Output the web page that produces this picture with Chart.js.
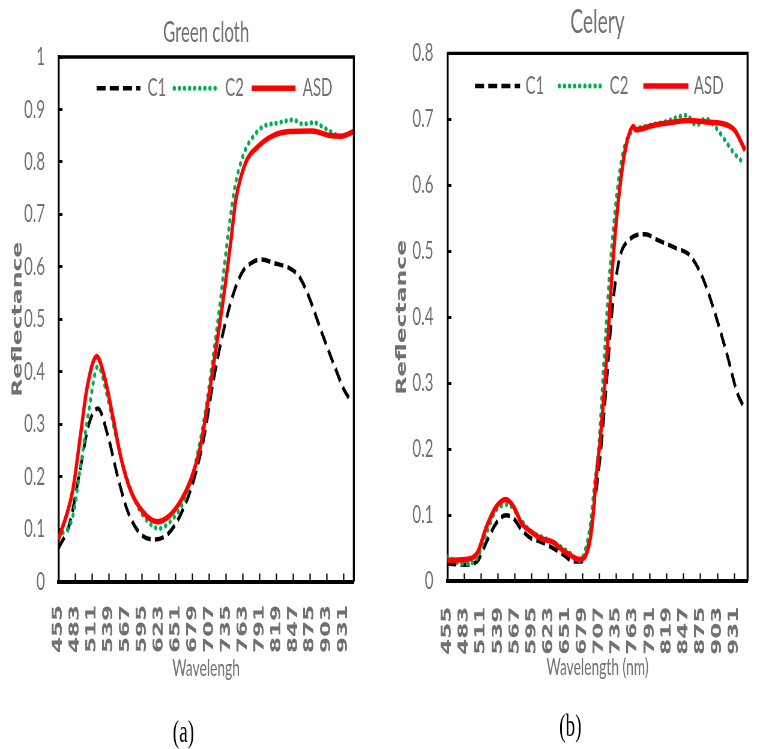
<!DOCTYPE html>
<html>
<head>
<meta charset="utf-8">
<script src="https://cdn.jsdelivr.net/npm/chart.js@4.4.1/dist/chart.umd.min.js"></script>
<style>
  html, body { margin: 0; padding: 0; background: #fff; overflow: hidden; }
  canvas { position: absolute; top: 0; }
</style>
</head>
<body>
<!-- the figure is horizontally condensed: drawn wide, shown at 0.6 of its width -->
<canvas id="cloth" width="633" height="749" style="left:0;width:379.8px;height:749px"></canvas>
<canvas id="celery" width="653" height="749" style="left:380px;width:391.8px;height:749px"></canvas>
<script>
// [wavelength nm, reflectance]
const clothC1 = [[455, 0.063], [474, 0.111], [490, 0.205], [506, 0.300], [521, 0.330], [538, 0.276], [554, 0.200],
  [570, 0.136], [591, 0.092], [617, 0.080], [639, 0.092], [660, 0.130], [681, 0.194], [698, 0.275], [714, 0.385],
  [730, 0.475], [746, 0.545], [762, 0.590], [778, 0.608], [794, 0.614], [815, 0.607], [841, 0.597], [857, 0.581],
  [873, 0.543], [895, 0.473], [916, 0.410], [932, 0.365], [944, 0.343]];
const clothC2 = [[455, 0.085], [479, 0.124], [492, 0.219], [506, 0.327], [521, 0.410], [538, 0.346], [551, 0.276],
  [567, 0.206], [585, 0.149], [607, 0.111], [623, 0.101], [644, 0.117], [665, 0.155], [681, 0.213], [698, 0.308],
  [711, 0.410], [724, 0.524], [735, 0.632], [748, 0.743], [756, 0.785], [767, 0.823], [780, 0.848], [796, 0.867],
  [820, 0.874], [847, 0.880], [863, 0.872], [881, 0.875], [900, 0.864], [927, 0.849], [948, 0.858]];
const clothASD = [[455, 0.079], [479, 0.174], [492, 0.280], [503, 0.370], [519, 0.429], [532, 0.390], [546, 0.314],
  [559, 0.238], [575, 0.175], [596, 0.133], [620, 0.114], [639, 0.124], [660, 0.155], [676, 0.194], [692, 0.257],
  [705, 0.346], [716, 0.429], [730, 0.537], [743, 0.651], [751, 0.727], [767, 0.797], [788, 0.829], [815, 0.851],
  [841, 0.858], [879, 0.859], [905, 0.851], [927, 0.849], [948, 0.858]];

const celeryC1 = [[455, 0.027], [483, 0.025], [504, 0.030], [520, 0.060], [536, 0.088], [552, 0.100], [565, 0.095],
  [578, 0.078], [594, 0.065], [610, 0.060], [631, 0.050], [648, 0.040], [664, 0.030], [677, 0.030], [688, 0.052],
  [695, 0.093], [708, 0.184], [719, 0.300], [729, 0.416], [740, 0.487], [756, 0.517], [783, 0.526], [804, 0.517],
  [836, 0.504], [857, 0.494], [878, 0.461], [899, 0.406], [920, 0.340], [936, 0.285], [947, 0.264]];
const celeryC2 = [[455, 0.037], [483, 0.026], [504, 0.035], [520, 0.073], [536, 0.108], [557, 0.116], [573, 0.098],
  [594, 0.075], [610, 0.068], [637, 0.056], [658, 0.043], [674, 0.031], [685, 0.052], [693, 0.093], [698, 0.138],
  [706, 0.204], [714, 0.325], [724, 0.466], [735, 0.578], [746, 0.648], [759, 0.679], [783, 0.689], [815, 0.696],
  [852, 0.706], [868, 0.691], [883, 0.701], [899, 0.689], [915, 0.669], [931, 0.648], [944, 0.636]];
const celeryASD = [[455, 0.032], [483, 0.033], [504, 0.042], [520, 0.083], [536, 0.113], [552, 0.124], [565, 0.113],
  [578, 0.088], [594, 0.075], [610, 0.065], [631, 0.059], [642, 0.050], [658, 0.040], [674, 0.033], [685, 0.040],
  [695, 0.083], [703, 0.169], [708, 0.209], [719, 0.335], [729, 0.477], [740, 0.588], [751, 0.658], [764, 0.689],
  [767, 0.684], [798, 0.691], [825, 0.695], [857, 0.698], [883, 0.696], [909, 0.694], [931, 0.684], [949, 0.653]];

const xTicks = [455, 483, 511, 539, 567, 595, 623, 651, 679, 707, 735, 763, 791, 819, 847, 875, 903, 931];
const clothYTicks = [0, 0.1, 0.2, 0.3, 0.4, 0.5, 0.6, 0.7, 0.8, 0.9, 1];
const celeryYTicks = [0, 0.1, 0.2, 0.3, 0.4, 0.5, 0.6, 0.7, 0.8];

const GREY = '#707070';

// legend sits inside the plot area, in one row
const insideLegend = {
  id: 'insideLegend',
  afterDatasetsDraw(chart, args, opts) {
    const { ctx, chartArea } = chart;
    const { lineLen, textGap, itemGap } = opts;
    ctx.save();
    ctx.font = '25px Lato';
    const items = chart.data.datasets.map(ds => ({ ds, w: ctx.measureText(ds.label).width }));
    const total = items.reduce((s, it) => s + lineLen + textGap + it.w, 0) + itemGap * (items.length - 1);
    let x = (chartArea.left + chartArea.right) / 2 - total / 2 + opts.shift;
    const y = chartArea.top + opts.top;
    items.forEach(({ ds, w }) => {
      ctx.strokeStyle = ds.borderColor;
      ctx.lineWidth = ds.borderWidth;
      ctx.lineCap = ds.borderCapStyle || 'butt';
      ctx.setLineDash(ds.borderDash || []);
      ctx.beginPath();
      ctx.moveTo(x, y);
      ctx.lineTo(x + lineLen, y);
      ctx.stroke();
      x += lineLen + textGap;
      ctx.fillStyle = GREY;
      ctx.textBaseline = 'middle';
      ctx.fillText(ds.label, x, y);
      x += w + itemGap;
    });
    ctx.restore();
  }
};

// top and right edges of the plot frame
const frame = {
  id: 'frame',
  afterDraw(chart) {
    const { ctx, chartArea: a } = chart;
    ctx.save();
    ctx.strokeStyle = '#000';
    ctx.lineWidth = 3.3;
    ctx.beginPath();
    ctx.moveTo(a.left, a.top);
    ctx.lineTo(a.right, a.top);
    ctx.lineTo(a.right, a.bottom);
    ctx.stroke();
    ctx.restore();
  }
};

function series(label, pts, color, width, dash, cap, order) {
  return {
    label,
    data: pts.map(([x, y]) => ({ x, y })),
    borderColor: color,
    borderWidth: width,
    borderDash: dash,
    borderCapStyle: cap,
    order,
    pointRadius: 0,
    fill: false,
    cubicInterpolationMode: 'monotone'
  };
}

function panel(id, p) {
  return new Chart(document.getElementById(id), {
    type: 'line',
    data: {
      datasets: [
        series('C1', p.c1, '#000000', 4.5, [15, 7], 'butt', 2),
        series('C2', p.c2, '#00b050', 5, [0.5, 8], 'round', 1),
        series('ASD', p.asd, '#ff0000', 5.5, [], 'butt', 0)
      ]
    },
    options: {
      responsive: false,
      animation: false,
      layout: { padding: { right: p.padRight } },
      plugins: {
        legend: { display: false },
        tooltip: { enabled: false },
        title: {
          display: true, text: p.title, fullSize: false, color: GREY,
          font: { family: 'Lato', size: p.titleSize, weight: 'normal' }, padding: p.titlePad
        },
        subtitle: {
          display: true, text: p.tag, position: 'bottom', color: '#000',
          font: { family: 'Liberation Serif', size: 32, lineHeight: 0.9 }, padding: p.tagPad
        },
        insideLegend: p.legend
      },
      scales: {
        x: {
          type: 'linear', min: 455, max: p.xMax,
          afterBuildTicks: a => { a.ticks = xTicks.map(v => ({ value: v })); },
          afterFit: a => { a.height = p.xAxisH; },
          ticks: {
            color: GREY, font: { family: 'DejaVu Sans', size: 23, weight: 'bold' },
            padding: p.xTickPad, minRotation: 90, maxRotation: 90, autoSkip: false,
            callback: v => String(v)
          },
          grid: { drawOnChartArea: false, tickLength: -8, tickWidth: 2.2, tickColor: '#000' },
          border: { color: '#000', width: 4 },
          title: {
            display: true, text: p.xTitle, color: GREY,
            font: { family: 'Lato', size: 23 }, padding: { top: 0, bottom: p.xTitlePadB }
          }
        },
        y: {
          min: 0, max: p.yMax,
          afterBuildTicks: a => { a.ticks = p.yTicks.map(v => ({ value: v })); },
          afterFit: a => { a.width = p.yAxisW; },
          ticks: { color: GREY, font: { family: 'Lato', size: 25 }, padding: p.yTickPad, callback: v => String(v) },
          grid: { drawOnChartArea: false, tickLength: -6.7, tickWidth: 3, tickColor: '#000' },
          border: { color: '#000', width: 3.3 },
          title: {
            display: true, text: 'Reflectance', color: GREY,
            font: { family: 'DejaVu Sans', size: 23.5, weight: 'bold' }, padding: { top: p.yTitlePadT, bottom: 0 }
          }
        }
      }
    },
    plugins: [insideLegend, frame]
  });
}

panel('cloth', {
  c1: clothC1, c2: clothC2, asd: clothASD,
  title: 'Green cloth', titleSize: 28, titlePad: { top: 15.7, bottom: 7.7 },
  tag: '(a)', tagPad: { top: 0, bottom: 0.6 },
  xMax: 948, padRight: 21.8, xAxisH: 138.1, yAxisW: 97.2,
  yMax: 1, yTicks: clothYTicks,
  xTitle: 'Wavelengh', xTitlePadB: 37.5, xTickPad: 31.5,
  yTickPad: 28.9, yTitlePadT: 15.4,
  legend: { top: 31.3, shift: 14, lineLen: 73, textGap: 12, itemGap: 13 }
});

panel('celery', {
  c1: celeryC1, c2: celeryC2, asd: celeryASD,
  title: 'Celery', titleSize: 32, titlePad: { top: 3.3, bottom: 11.6 },
  tag: '(b)', tagPad: { top: 0, bottom: 7.1 },
  xMax: 953, padRight: 18.8, xAxisH: 131.8, yAxisW: 112.2,
  yMax: 0.8, yTicks: celeryYTicks,
  xTitle: 'Wavelength (nm)', xTitlePadB: 31.3, xTickPad: 33.4,
  yTickPad: 30, yTitlePadT: 23.1,
  legend: { top: 32.7, shift: 3, lineLen: 75, textGap: 9, itemGap: 25 }
});
</script>
</body>
</html>
